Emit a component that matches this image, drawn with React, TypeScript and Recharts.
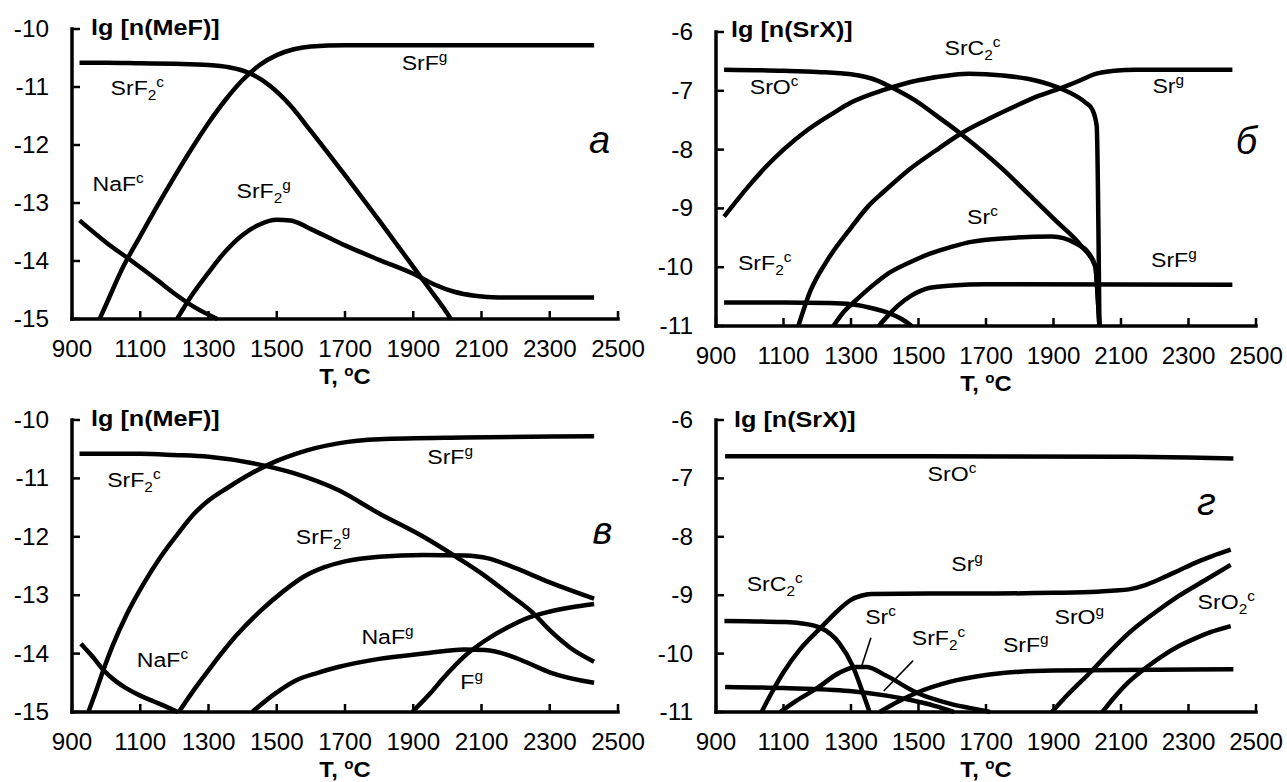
import React from 'react';
import { LineChart, Line, XAxis, YAxis, ReferenceDot, ReferenceLine } from 'recharts';

const FONT = "'Liberation Sans', Arial, Helvetica, sans-serif";

// ---------- axes ----------
const X_TICKS = [900, 1100, 1300, 1500, 1700, 1900, 2100, 2300, 2500];
const Y_TICKS_MEF = [-15, -14, -13, -12, -11, -10];
const Y_TICKS_SRX = [-11, -10, -9, -8, -7, -6];

// ---------- panel а : lg[n(MeF)] ----------
const A_SRF2C_T = [922, 1000, 1100, 1200, 1300, 1360, 1420, 1480, 1540, 1600, 1700, 1800, 1900, 1950, 1990, 2010];
const A_SRF2C_V = [-10.58, -10.58, -10.59, -10.6, -10.62, -10.66, -10.76, -10.98, -11.32, -11.76, -12.52, -13.3, -14.1, -14.5, -14.82, -15];
const A_SRFG_T = [981, 1000, 1050, 1100, 1150, 1200, 1250, 1300, 1350, 1400, 1450, 1500, 1550, 1600, 1700, 2000, 2430];
const A_SRFG_V = [-15, -14.75, -14.1, -13.57, -13.05, -12.55, -12.07, -11.62, -11.22, -10.88, -10.62, -10.45, -10.35, -10.3, -10.28, -10.28, -10.28];
const A_NAFC_T = [922, 1000, 1075, 1150, 1200, 1260, 1326];
const A_NAFC_V = [-13.3, -13.68, -14.0, -14.33, -14.56, -14.8, -15];
const A_SRF2G_T = [1208, 1250, 1300, 1350, 1400, 1450, 1500, 1540, 1600, 1700, 1800, 1900, 1960, 2020, 2080, 2150, 2430];
const A_SRF2G_V = [-15, -14.6, -14.2, -13.83, -13.55, -13.37, -13.29, -13.3, -13.45, -13.73, -13.98, -14.22, -14.4, -14.53, -14.6, -14.63, -14.63];

// ---------- panel б : lg[n(SrX)] ----------
const B_SROC_T = [924, 1100, 1200, 1300, 1380, 1430, 1500, 1550, 1625, 1747, 1830, 1905, 1984, 2024, 2031, 2036];
const B_SROC_V = [-6.64, -6.66, -6.68, -6.72, -6.83, -6.97, -7.2, -7.41, -7.73, -8.32, -8.78, -9.2, -9.65, -9.99, -10.5, -11];
const B_SRC2C_T = [924, 1000, 1050, 1100, 1170, 1250, 1300, 1400, 1500, 1600, 1650, 1750, 1850, 1920, 1970, 1995, 2015, 2028, 2036];
const B_SRC2C_V = [-9.14, -8.6, -8.28, -8.0, -7.67, -7.37, -7.2, -6.98, -6.82, -6.73, -6.71, -6.74, -6.83, -6.96, -7.1, -7.2, -7.32, -7.6, -11];
const B_SRG_T = [1144, 1180, 1230, 1300, 1350, 1400, 1470, 1550, 1625, 1700, 1780, 1850, 1924, 1980, 2020, 2080, 2144, 2430];
const B_SRG_V = [-11, -10.4, -9.88, -9.33, -8.97, -8.7, -8.35, -8.02, -7.73, -7.5, -7.28, -7.1, -6.95, -6.82, -6.72, -6.66, -6.64, -6.64];
const B_SRC_T = [1248, 1280, 1315, 1360, 1412, 1470, 1534, 1600, 1656, 1747, 1895, 1964, 2004, 2024, 2031, 2036];
const B_SRC_V = [-11, -10.75, -10.56, -10.33, -10.1, -9.93, -9.77, -9.65, -9.57, -9.51, -9.48, -9.59, -9.76, -9.99, -10.5, -11];
const B_SRFG_T = [1382, 1410, 1440, 1480, 1534, 1600, 1700, 2430];
const B_SRFG_V = [-11, -10.82, -10.65, -10.48, -10.35, -10.31, -10.29, -10.3];
const B_SRF2C_T = [924, 1100, 1230, 1300, 1350, 1412, 1450, 1480];
const B_SRF2C_V = [-10.6, -10.6, -10.61, -10.63, -10.68, -10.78, -10.88, -11];

// ---------- panel в : lg[n(MeF)] ----------
const C_SRFG_T = [948, 970, 992, 1020, 1061, 1110, 1159, 1210, 1257, 1300, 1356, 1430, 1500, 1560, 1680, 1800, 2050, 2430];
const C_SRFG_V = [-15, -14.65, -14.28, -13.85, -13.32, -12.8, -12.35, -11.95, -11.61, -11.38, -11.16, -10.9, -10.7, -10.57, -10.4, -10.33, -10.3, -10.28];
const C_SRF2C_T = [922, 1100, 1200, 1300, 1430, 1550, 1680, 1800, 1930, 2030, 2115, 2180, 2250, 2300, 2360, 2430];
const C_SRF2C_V = [-10.58, -10.58, -10.6, -10.63, -10.74, -10.91, -11.2, -11.6, -12.0, -12.36, -12.69, -12.98, -13.3, -13.6, -13.9, -14.14];
const C_NAFC_T = [926, 960, 992, 1030, 1061, 1100, 1140, 1180, 1210];
const C_NAFC_V = [-13.83, -14.05, -14.28, -14.48, -14.6, -14.72, -14.82, -14.92, -15];
const C_SRF2G_T = [1213, 1260, 1307, 1380, 1454, 1520, 1580, 1640, 1700, 1800, 1930, 2050, 2120, 2180, 2300, 2430];
const C_SRF2G_V = [-15, -14.6, -14.23, -13.7, -13.26, -12.93, -12.68, -12.52, -12.42, -12.34, -12.31, -12.32, -12.37, -12.49, -12.78, -13.06];
const C_NAFG_T = [1428, 1494, 1556, 1620, 1680, 1800, 1930, 2050, 2110, 2180, 2240, 2300, 2430];
const C_NAFG_V = [-15, -14.69, -14.46, -14.33, -14.23, -14.09, -14.0, -13.93, -13.94, -14.03, -14.17, -14.32, -14.5];
const C_FG_T = [1897, 1950, 1991, 2053, 2110, 2177, 2240, 2301, 2360, 2430];
const C_FG_V = [-15, -14.68, -14.4, -14.03, -13.78, -13.55, -13.38, -13.28, -13.21, -13.15];

// ---------- panel г : lg[n(SrX)] ----------
const D_SROC_T = [927, 1500, 2100, 2300, 2433];
const D_SROC_V = [-6.62, -6.62, -6.63, -6.64, -6.66];
const D_SRG_T = [1035, 1065, 1100, 1150, 1210, 1260, 1300, 1330, 1360, 1530, 1732, 1900, 2030, 2080, 2123, 2170, 2221, 2270, 2318, 2370, 2425];
const D_SRG_V = [-11, -10.67, -10.32, -9.92, -9.56, -9.27, -9.08, -9.01, -8.98, -8.97, -8.97, -8.96, -8.94, -8.92, -8.9, -8.83, -8.71, -8.58, -8.45, -8.33, -8.22];
const D_SRC2C_T = [925, 1100, 1150, 1210, 1265, 1305, 1335, 1355];
const D_SRC2C_V = [-9.44, -9.46, -9.48, -9.56, -9.82, -10.21, -10.67, -11];
const D_SRC_T = [1090, 1140, 1195, 1265, 1315, 1345, 1405, 1495, 1595, 1651, 1712];
const D_SRC_V = [-11, -10.8, -10.61, -10.33, -10.23, -10.23, -10.38, -10.67, -10.86, -10.93, -11];
const D_SRF2C_T = [927, 1100, 1295, 1405, 1480, 1545, 1605];
const D_SRF2C_V = [-10.57, -10.59, -10.64, -10.72, -10.8, -10.89, -11];
const D_SRFG_T = [1385, 1440, 1495, 1595, 1685, 1800, 1900, 2433];
const D_SRFG_V = [-11, -10.82, -10.67, -10.48, -10.38, -10.31, -10.29, -10.27];
const D_SROG_T = [1895, 1928, 2016, 2070, 2123, 2200, 2269, 2350, 2425];
const D_SROG_V = [-11, -10.79, -10.28, -9.95, -9.65, -9.3, -9.02, -8.74, -8.48];
const D_SRO2C_T = [2045, 2074, 2120, 2172, 2220, 2269, 2320, 2367, 2425];
const D_SRO2C_V = [-11, -10.79, -10.5, -10.25, -10.05, -9.88, -9.74, -9.63, -9.53];

// ---------- curve labels (position in data units: T, lg n) ----------
type Lbl = { x: number; y: number; base: string; sub?: string; sup?: string };
const A_LABELS: Lbl[] = [
  { x: 1013, y: -11.14, base: 'SrF', sub: '2', sup: 'c' },
  { x: 1866, y: -10.71, base: 'SrF', sup: 'g' },
  { x: 960, y: -12.79, base: 'NaF', sup: 'c' },
  { x: 1382, y: -12.92, base: 'SrF', sub: '2', sup: 'g' },
];
const B_LABELS: Lbl[] = [
  { x: 1000, y: -7.06, base: 'SrO', sup: 'c' },
  { x: 1577, y: -6.39, base: 'SrC', sub: '2', sup: 'c' },
  { x: 2193, y: -7.04, base: 'Sr', sup: 'g' },
  { x: 1644, y: -9.27, base: 'Sr', sup: 'c' },
  { x: 965, y: -10.05, base: 'SrF', sub: '2', sup: 'c' },
  { x: 2189, y: -10.0, base: 'SrF', sup: 'g' },
];
const C_LABELS: Lbl[] = [
  { x: 1003, y: -11.15, base: 'SrF', sub: '2', sup: 'c' },
  { x: 1941, y: -10.75, base: 'SrF', sup: 'g' },
  { x: 1556, y: -12.12, base: 'SrF', sub: '2', sup: 'g' },
  { x: 1090, y: -14.23, base: 'NaF', sup: 'c' },
  { x: 1748, y: -13.83, base: 'NaF', sup: 'g' },
  { x: 2038, y: -14.6, base: 'F', sup: 'g' },
];
const D_LABELS: Lbl[] = [
  { x: 1527, y: -7.05, base: 'SrO', sup: 'c' },
  { x: 1597, y: -8.58, base: 'Sr', sup: 'g' },
  { x: 991, y: -8.93, base: 'SrC', sub: '2', sup: 'c' },
  { x: 1342, y: -9.5, base: 'Sr', sup: 'c' },
  { x: 1480, y: -9.86, base: 'SrF', sub: '2', sup: 'c' },
  { x: 1750, y: -9.97, base: 'SrF', sup: 'g' },
  { x: 1903, y: -9.5, base: 'SrO', sup: 'g' },
  { x: 2327, y: -9.24, base: 'SrO', sub: '2', sup: 'c' },
];
const D_LEADERS = [
  [{ x: 1359, y: -9.73 }, { x: 1332, y: -10.21 }],
  [{ x: 1484, y: -10.12 }, { x: 1397, y: -10.64 }],
];

type Series = { t: number[]; v: number[] };
const pts = (s: Series) => s.t.map((x, i) => ({ x, y: s.v[i] }));

// ---------- renderers ----------
const XTick = (p: any) => {
  const { x, y, payload } = p;
  return (
    <g>
      <line x1={x} y1={y} x2={x} y2={y - 8} stroke="#000" strokeWidth={2.5} />
      <g transform={`translate(${x},${y + 38}) scale(1.05,1)`}>
        <text x={0} y={0} textAnchor="middle" fontFamily={FONT} fontSize={23} fill="#000">
          {payload.value}
        </text>
      </g>
    </g>
  );
};
const YTick = (p: any) => {
  const { x, y, payload } = p;
  return (
    <g>
      <line x1={x} y1={y} x2={x + 8} y2={y} stroke="#000" strokeWidth={2.5} />
      <g transform={`translate(${x - 23},${y + 8}) scale(1.06,1)`}>
        <text x={0} y={0} textAnchor="end" fontFamily={FONT} fontSize={23} fill="#000">
          {payload.value}
        </text>
      </g>
    </g>
  );
};
const XTitle = (p: any) => {
  const vb = p.viewBox || {};
  return (
    <g transform={`translate(${vb.x + vb.width / 2},${vb.y + 65}) scale(1.08,1)`}>
      <text x={0} y={0} textAnchor="middle" fontFamily={FONT} fontWeight="bold" fontSize={22} fill="#000">
        {'T, '}
        <tspan fontSize={14} dy={-8}>o</tspan>
        <tspan dy={8}>C</tspan>
      </text>
    </g>
  );
};
const YTitle = (p: any) => {
  const vb = p.viewBox || {};
  return (
    <g transform={`translate(${vb.x + p.dx0},${vb.y + p.dy0}) scale(1.12,1)`}>
      <text x={0} y={0} fontFamily={FONT} fontWeight="bold" fontSize={22.5} fill="#000">
        {p.text}
      </text>
    </g>
  );
};
const SpeciesLabel = (p: any) => {
  const vb = p.viewBox || {};
  return (
    <g transform={`translate(${vb.x},${vb.y}) scale(1.1,1)`}>
      <text x={0} y={0} fontFamily={FONT} fontSize={21} fill="#000">
        {p.base}
        {p.sub ? <tspan fontSize={14} dy={5}>{p.sub}</tspan> : null}
        {p.sup ? <tspan fontSize={14} dy={p.sub ? -13 : -8}>{p.sup}</tspan> : null}
      </text>
    </g>
  );
};
const LetterLabel = (p: any) => {
  const vb = p.viewBox || {};
  return (
    <text x={vb.x} y={vb.y} fontFamily={FONT} fontStyle="italic" fontSize={38} fill="#000">
      {p.letter}
    </text>
  );
};

const AXIS = { stroke: '#000', strokeWidth: 3.5, strokeLinecap: 'square' as const };

type PanelProps = {
  left: number; top: number; width: number; height: number;
  margin: { top: number; right: number; bottom: number; left: number };
  yDomain: [number, number]; yTicks: number[]; yTitle: string; titleDx: number; titleDy: number;
  series: Series[]; labels: Lbl[]; letter: string; letterPos: { x: number; y: number };
  leaders?: { x: number; y: number }[][];
};

function Panel(props: PanelProps) {
  const { left, top, width, height, margin, yDomain, yTicks, yTitle, titleDx, titleDy, series, labels, letter, letterPos, leaders } = props;
  // axes take 1px each (a zero-size axis is not drawn), so margins are reduced by 1
  const m = { top: margin.top, right: margin.right, bottom: margin.bottom - 1, left: margin.left - 1 };
  return (
    <div style={{ position: 'absolute', left, top, width, height }}>
      <LineChart width={width} height={height} margin={m}>
        <XAxis
          type="number" dataKey="x" domain={[900, 2500]} ticks={X_TICKS} interval={0}
          height={1} tickSize={0} tickMargin={0} tickLine={false} axisLine={AXIS}
          tick={XTick} label={<XTitle />}
        />
        <YAxis
          type="number" domain={yDomain} ticks={yTicks} interval={0}
          width={1} tickSize={0} tickMargin={0} tickLine={false} axisLine={AXIS}
          tick={YTick} label={<YTitle text={yTitle} dx0={titleDx} dy0={titleDy} />}
        />
        {series.map((s, i) => (
          <Line
            key={i} data={pts(s)} dataKey="y" type="monotone" stroke="#000" strokeWidth={4.5}
            strokeLinejoin="round" dot={false} activeDot={false} isAnimationActive={false}
          />
        ))}
        {(leaders || []).map((seg, i) => (
          <ReferenceLine key={'l' + i} segment={seg} stroke="#000" strokeWidth={1.6} ifOverflow="visible" />
        ))}
        {labels.map((l, i) => (
          <ReferenceDot
            key={'t' + i} x={l.x} y={l.y} r={0} fill="none" stroke="none" ifOverflow="visible"
            label={<SpeciesLabel base={l.base} sub={l.sub} sup={l.sup} />}
          />
        ))}
        <ReferenceDot
          x={letterPos.x} y={letterPos.y} r={0} fill="none" stroke="none" ifOverflow="visible"
          label={<LetterLabel letter={letter} />}
        />
      </LineChart>
    </div>
  );
}

export default function App() {
  return (
    <div style={{ position: 'absolute', left: 0, top: 0, width: 1287, height: 782, background: '#fff', overflow: 'hidden' }}>
      <Panel
        left={0} top={0} width={668} height={400}
        margin={{ top: 29, right: 50, bottom: 81, left: 72 }}
        yDomain={[-15, -10]} yTicks={Y_TICKS_MEF} yTitle="lg [n(MeF)]" titleDx={20} titleDy={6}
        series={[
          { t: A_SRF2C_T, v: A_SRF2C_V }, { t: A_SRFG_T, v: A_SRFG_V },
          { t: A_NAFC_T, v: A_NAFC_V }, { t: A_SRF2G_T, v: A_SRF2G_V },
        ]}
        labels={A_LABELS} letter="а" letterPos={{ x: 2415, y: -12.13 }}
      />
      <Panel
        left={640} top={0} width={647} height={400}
        margin={{ top: 32, right: 31, bottom: 74, left: 76 }}
        yDomain={[-11, -6]} yTicks={Y_TICKS_SRX} yTitle="lg [n(SrX)]" titleDx={16} titleDy={5}
        series={[
          { t: B_SROC_T, v: B_SROC_V }, { t: B_SRC2C_T, v: B_SRC2C_V }, { t: B_SRG_T, v: B_SRG_V },
          { t: B_SRC_T, v: B_SRC_V }, { t: B_SRFG_T, v: B_SRFG_V }, { t: B_SRF2C_T, v: B_SRF2C_V },
        ]}
        labels={B_LABELS} letter="б" letterPos={{ x: 2440, y: -8.08 }}
      />
      <Panel
        left={0} top={390} width={668} height={392}
        margin={{ top: 30, right: 50, bottom: 70, left: 72 }}
        yDomain={[-15, -10]} yTicks={Y_TICKS_MEF} yTitle="lg [n(MeF)]" titleDx={20} titleDy={6}
        series={[
          { t: C_SRFG_T, v: C_SRFG_V }, { t: C_SRF2C_T, v: C_SRF2C_V }, { t: C_NAFC_T, v: C_NAFC_V },
          { t: C_SRF2G_T, v: C_SRF2G_V }, { t: C_NAFG_T, v: C_NAFG_V }, { t: C_FG_T, v: C_FG_V },
        ]}
        labels={C_LABELS} letter="в" letterPos={{ x: 2425, y: -12.12 }}
      />
      <Panel
        left={640} top={390} width={647} height={392}
        margin={{ top: 30, right: 31, bottom: 70, left: 76 }}
        yDomain={[-11, -6]} yTicks={Y_TICKS_SRX} yTitle="lg [n(SrX)]" titleDx={19} titleDy={7}
        series={[
          { t: D_SROC_T, v: D_SROC_V }, { t: D_SRG_T, v: D_SRG_V }, { t: D_SRC2C_T, v: D_SRC2C_V },
          { t: D_SRC_T, v: D_SRC_V }, { t: D_SRF2C_T, v: D_SRF2C_V }, { t: D_SRFG_T, v: D_SRFG_V },
          { t: D_SROG_T, v: D_SROG_V }, { t: D_SRO2C_T, v: D_SRO2C_V },
        ]}
        labels={D_LABELS} letter="г" letterPos={{ x: 2325, y: -7.62 }} leaders={D_LEADERS}
      />
    </div>
  );
}
